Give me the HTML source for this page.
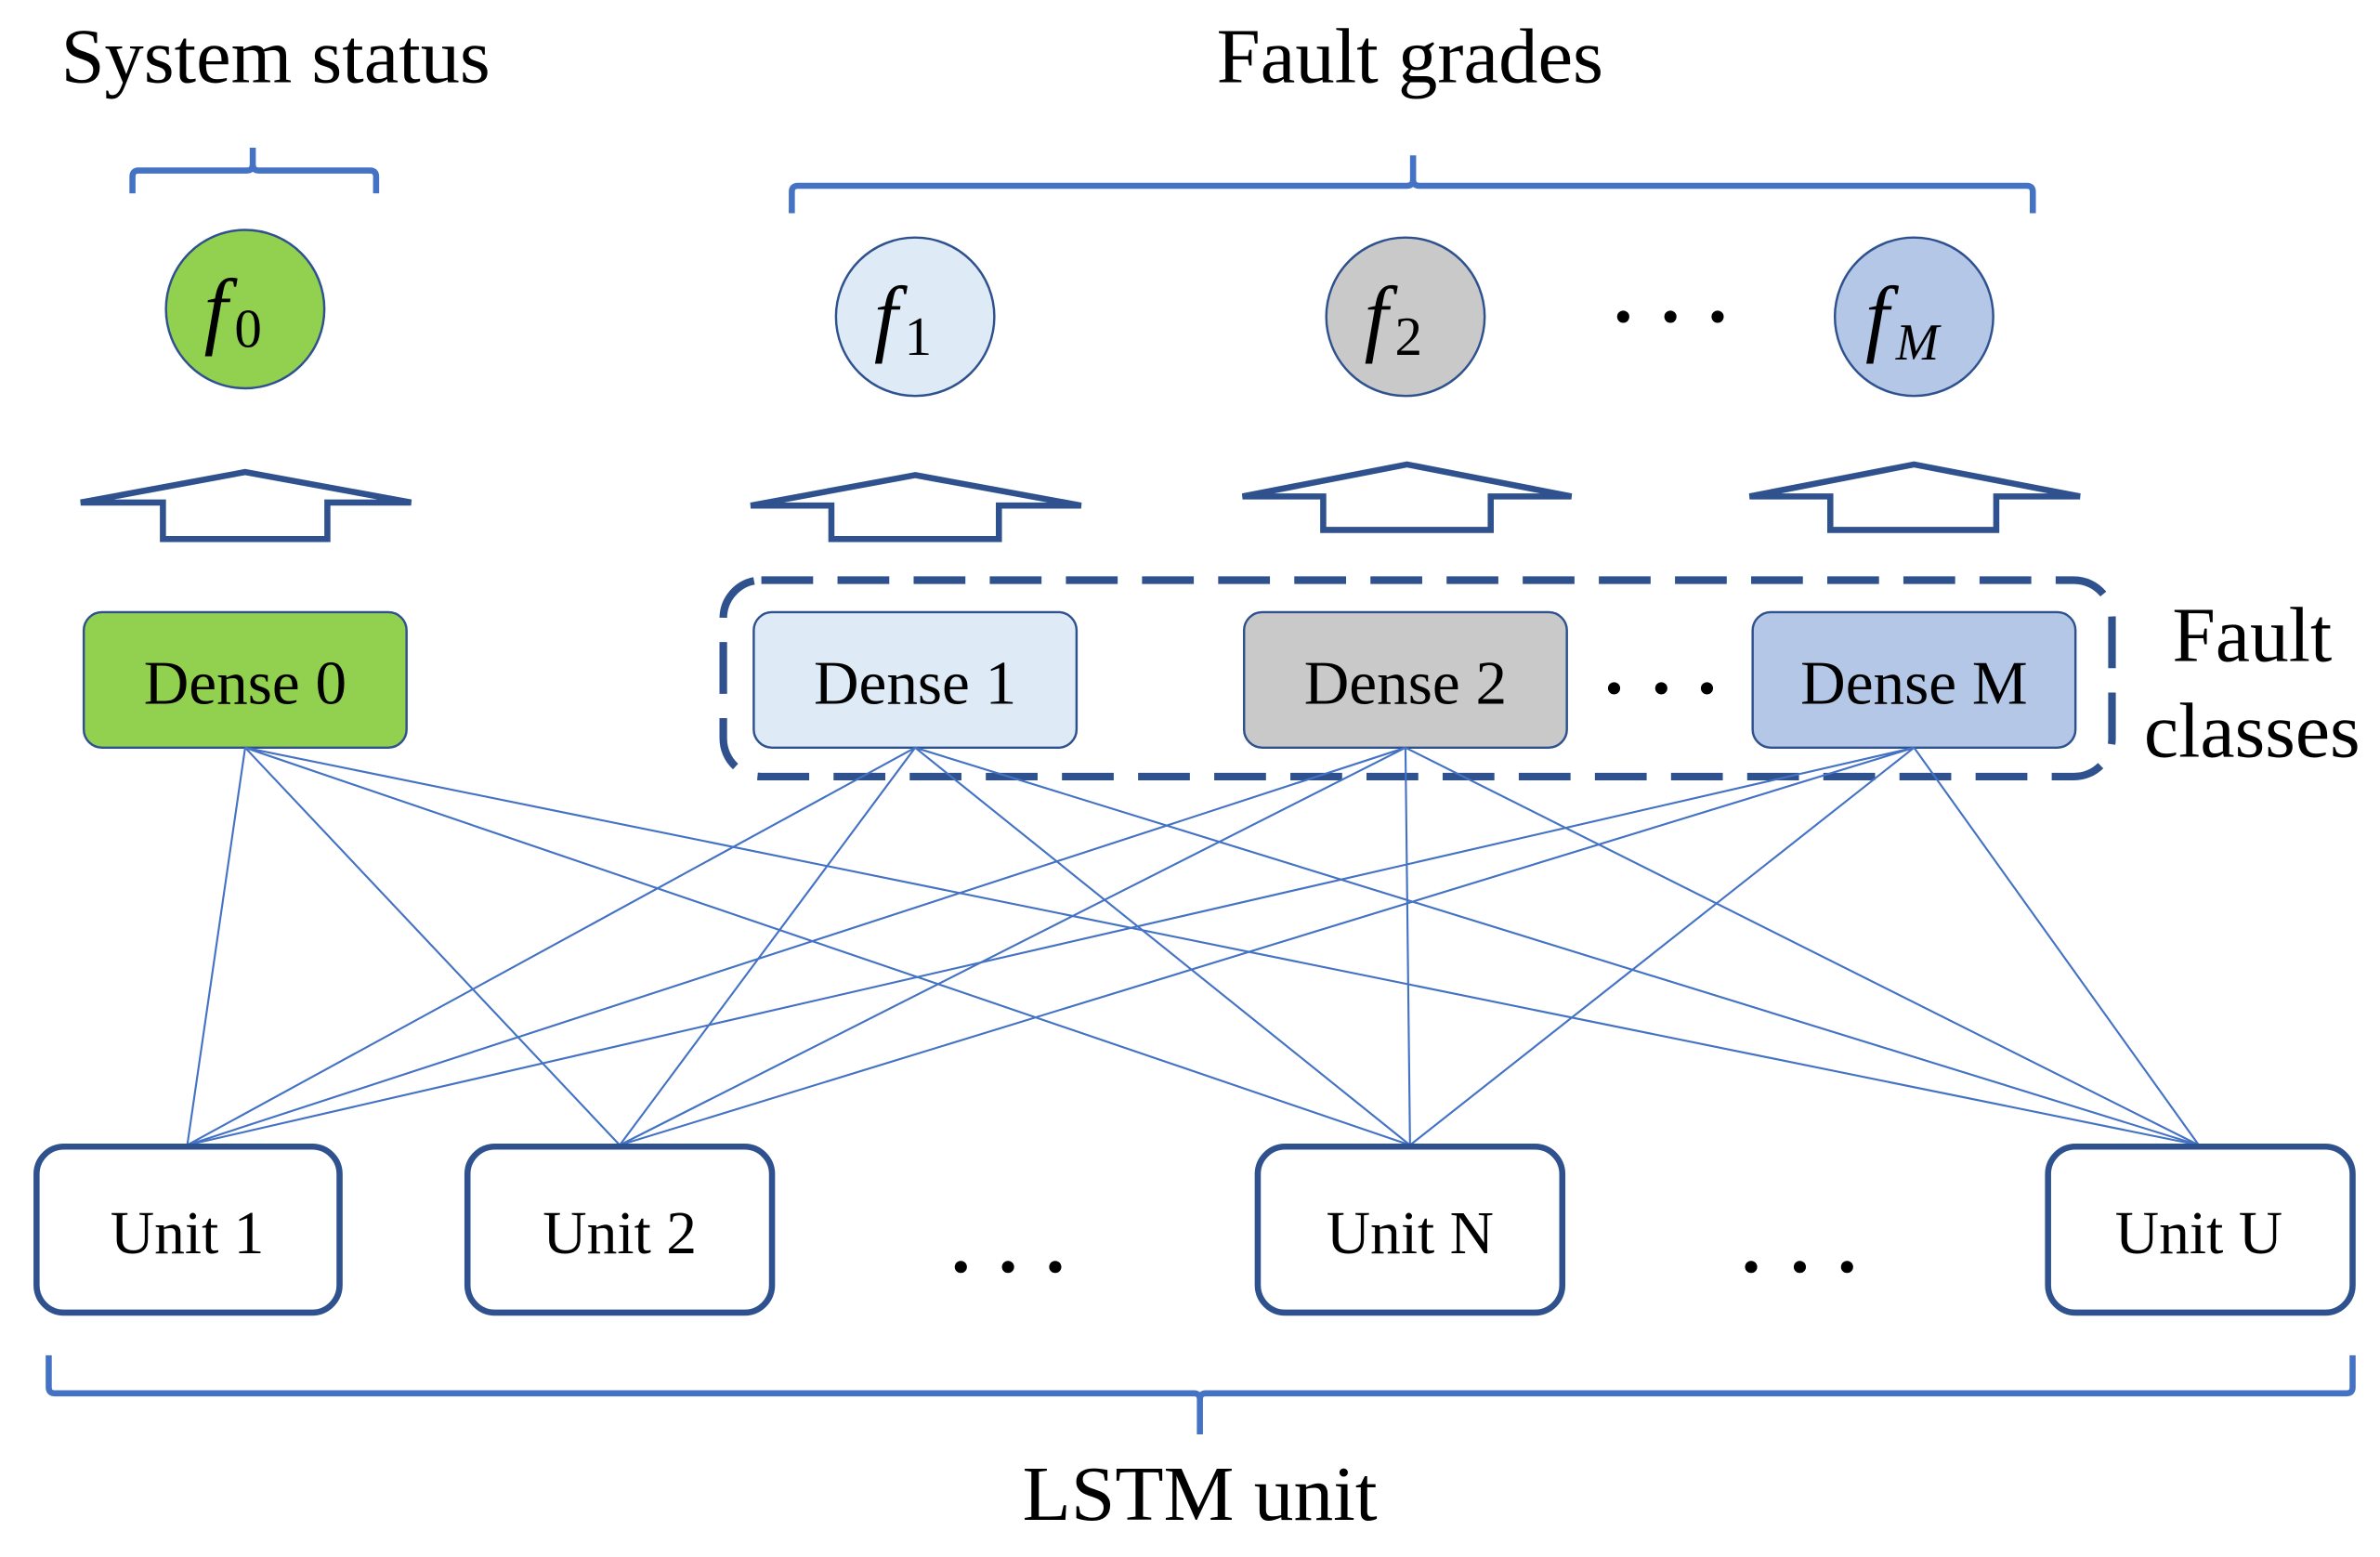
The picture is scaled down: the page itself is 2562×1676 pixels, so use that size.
<!DOCTYPE html>
<html><head><meta charset="utf-8"><style>
html,body{margin:0;padding:0;background:#fff;}
svg{display:block;}
text{font-family:"Liberation Serif",serif;fill:#000;}
</style></head><body>
<svg width="2562" height="1676" viewBox="0 0 1563 1022.5" preserveAspectRatio="none" xmlns="http://www.w3.org/2000/svg">
<g font-size="51" text-anchor="middle">
<text x="181" y="54" textLength="282" lengthAdjust="spacingAndGlyphs">System status</text>
<text x="926" y="54" textLength="254" lengthAdjust="spacingAndGlyphs">Fault grades</text>
<text x="1479" y="434">Fault</text>
<text x="1479" y="497" textLength="142" lengthAdjust="spacingAndGlyphs">classes</text>
<text x="788" y="998" textLength="233" lengthAdjust="spacingAndGlyphs">LSTM unit</text>
</g>
<g fill="none" stroke="#4472C4" stroke-width="4">
<path d="M87,127 V116 Q87,112 91,112 H162 Q166,112 166,108 V97 M166,108 Q166,112 170,112 H243 Q247,112 247,116 V127"/>
<path d="M520,140 V126 Q520,122 524,122 H924 Q928,122 928,118 V102 M928,118 Q928,122 932,122 H1331 Q1335,122 1335,126 V140"/>
<path d="M32,890 V911 Q32,915 36,915 H784 Q788,915 788,919 V942 M788,919 Q788,915 792,915 H1541 Q1545,915 1545,911 V890"/>
</g>
<g stroke="#2F528F" stroke-width="1.5">
<circle cx="161" cy="203" r="52" fill="#92D050"/>
<circle cx="601" cy="208" r="52" fill="#DEEBF7"/>
<circle cx="923" cy="208" r="52" fill="#C9C9C9"/>
<circle cx="1257" cy="208" r="52" fill="#B4C7E7"/>
</g>
<g font-size="56" font-style="italic">
<text x="134" y="222">f</text><text x="154" y="228" font-size="36" font-style="normal">0</text>
<text x="574" y="227">f</text><text x="594" y="233" font-size="36" font-style="normal">1</text>
<text x="896" y="227">f</text><text x="916" y="233" font-size="36" font-style="normal">2</text>
<text x="1225" y="227">f</text><text x="1245" y="236" font-size="34">M</text>
</g>
<g fill="#000">
<circle cx="1066" cy="208" r="4"/><circle cx="1097" cy="208" r="4"/><circle cx="1128" cy="208" r="4"/>
<circle cx="1060" cy="452" r="4"/><circle cx="1091" cy="452" r="4"/><circle cx="1121" cy="452" r="4"/>
<circle cx="631" cy="832" r="4"/><circle cx="662" cy="832" r="4"/><circle cx="693" cy="832" r="4"/>
<circle cx="1150" cy="832" r="4"/><circle cx="1182" cy="832" r="4"/><circle cx="1213" cy="832" r="4"/>
</g>
<g fill="#fff" stroke="#2F528F" stroke-width="4">
<path d="M161,310 L270,330 H215 V354 H107 V330 H53 Z"/>
<path d="M601,312 L710,332 H656 V354 H546 V332 H493 Z"/>
<path d="M924,305 L1032,326 H979 V348 H869 V326 H816 Z"/>
<path d="M1257,305 L1366,326 H1311 V348 H1202 V326 H1149 Z"/>
</g>
<rect x="475" y="381" width="912" height="129" rx="25" fill="none" stroke="#2F528F" stroke-width="5" stroke-dasharray="34 16"/>
<g stroke="#2F528F" stroke-width="1.5">
<rect x="55" y="402" width="212" height="89" rx="12" fill="#92D050"/>
<rect x="495" y="402" width="212" height="89" rx="12" fill="#DEEBF7"/>
<rect x="817" y="402" width="212" height="89" rx="12" fill="#C9C9C9"/>
<rect x="1151" y="402" width="212" height="89" rx="12" fill="#B4C7E7"/>
</g>
<g font-size="41" text-anchor="middle">
<text x="161" y="462">Dense 0</text>
<text x="601" y="462">Dense 1</text>
<text x="923" y="462">Dense 2</text>
<text x="1257" y="462">Dense M</text>
</g>
<g stroke="#4472C4" stroke-width="1.3">
<path d="M161,491 L123,752 M161,491 L407,752 M161,491 L926,752 M161,491 L1444,752"/>
<path d="M601,491 L123,752 M601,491 L407,752 M601,491 L926,752 M601,491 L1444,752"/>
<path d="M923,491 L123,752 M923,491 L407,752 M923,491 L926,752 M923,491 L1444,752"/>
<path d="M1257,491 L123,752 M1257,491 L407,752 M1257,491 L926,752 M1257,491 L1444,752"/>
</g>
<g fill="#fff" stroke="#2F528F" stroke-width="4">
<rect x="24" y="753" width="199" height="109" rx="18"/>
<rect x="307" y="753" width="200" height="109" rx="18"/>
<rect x="826" y="753" width="200" height="109" rx="18"/>
<rect x="1345" y="753" width="200" height="109" rx="18"/>
</g>
<g font-size="40" text-anchor="middle">
<text x="123" y="823">Unit 1</text>
<text x="407" y="823">Unit 2</text>
<text x="926" y="823">Unit N</text>
<text x="1444" y="823">Unit U</text>
</g>
</svg>
</body></html>
